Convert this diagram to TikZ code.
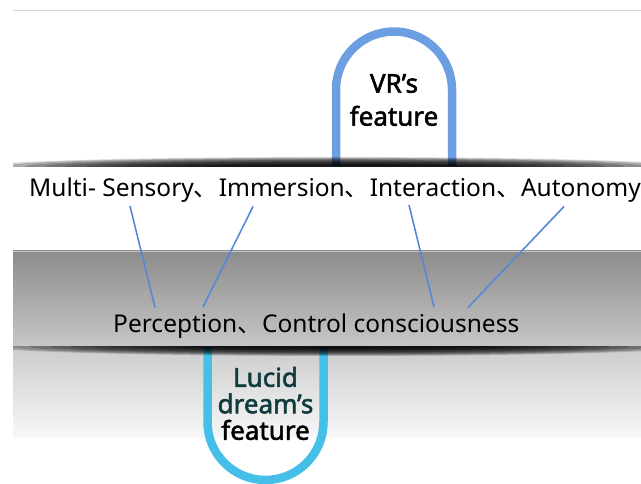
\documentclass[tikz,border=0pt]{standalone}
\usepackage{fontspec}
\setmainfont{Noto Sans}
\newfontfamily\cjk{Noto Sans CJK SC}
\newfontfamily\archfont[RawFeature={embolden=2}]{Noto Sans}
\usetikzlibrary{positioning,calc}

\definecolor{vrblue}{HTML}{6C9FE2}
\definecolor{lucidcyan}{HTML}{45BFE8}
\definecolor{linkblue}{HTML}{5588D8}
\definecolor{darkteal}{HTML}{0E3A3C}

\tikzset{
  arch/.style={line width=8.5pt},
  word/.style={inner sep=0pt, font=\fontsize{24.5}{29}\selectfont},
  link/.style={linkblue, line width=1.6pt},
  archtext/.style={align=center, inner sep=0pt},
  shadowpiece/.style={black, opacity=0.18}
}

\begin{document}
\begin{tikzpicture}[x=1pt,y=-1pt]
		\useasboundingbox (0,0) rectangle (641,484);
		\draw[black!17, line width=1pt] (13,11) -- (641,11);
		% grey bands
		\shade[top color=black!45, bottom color=black!22] (13,251) rectangle (641,347);
		\shade[top color=black!20, bottom color=black!3] (13,347) rectangle (641,437);
		\draw[black!22, line width=0.8pt] (13,251) -- (641,251);
		% the two arches
		\draw[arch, vrblue, fill=white] (336,166) -- (336,89.5) arc[start angle=180, end angle=360, radius=58] -- (452,166);
		\draw[arch, lucidcyan] (207.5,347) -- (207.5,422) arc[start angle=180, end angle=0, radius=58] -- (323.5,347);
		% shadows
		\begin{scope}
			\clip (13,150) rectangle (641,166.5);
			\foreach \i in {1,...,12}
				\fill[shadowpiece] (335,166.5) ellipse ({110+20*\i} and {1+0.7*\i});
		\end{scope}
		\begin{scope}
			\clip (13,346.5) rectangle (641,364);
			\foreach \i in {1,...,12}
				\fill[shadowpiece] (340,346.5) ellipse ({110+20*\i} and {1+0.7*\i});
		\end{scope}
		% texts
		\node[archtext, font=\archfont\fontsize{26}{33}\selectfont] (vr) at (394,100) {VR’s\\feature};
		\node[archtext, font=\archfont\fontsize{26}{26.5}\selectfont] (ld) at (265.5,403.5) {\textcolor{darkteal}{Lucid}\\\textcolor{darkteal}{dream’s}\\feature};
		\node[word, anchor=base west] (ms) at (29,197) {Multi- Sensory\cjk{、}};
		\node[word, base right=0pt of ms] (im) {Immersion\cjk{、}};
		\node[word, base right=0pt of im] (in) {Interaction\cjk{、}};
		\node[word, base right=0pt of in] (au) {Autonomy};
		\node[word, anchor=base west] (pc) at (113,333) {Perception\cjk{、}};
		\node[word, base right=0pt of pc] (cc) {Control consciousness};
		% links
		\coordinate (ms-foot) at (130,206);
		\coordinate (im-foot) at (253,206.5);
		\coordinate (in-foot) at (409,205);
		\coordinate (au-foot) at (564,206.5);
		\coordinate (pc-head1) at (155,307.5);
		\coordinate (pc-head2) at (203,307);
		\coordinate (cc-head1) at (434,307);
		\coordinate (cc-head2) at (468,307.5);
		\draw[link] (ms-foot) -- (pc-head1);
		\draw[link] (im-foot) -- (pc-head2);
		\draw[link] (in-foot) -- (cc-head1);
		\draw[link] (au-foot) -- (cc-head2);
	\end{tikzpicture}
\end{document}
